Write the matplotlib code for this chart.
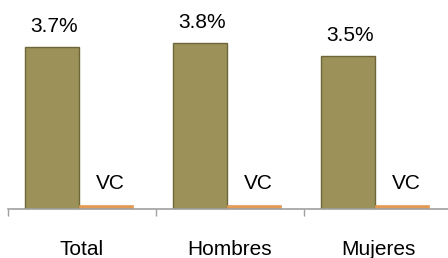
import numpy as np
import matplotlib.pyplot as plt

plt.rcParams['font.family'] = ['Liberation Sans', 'DejaVu Sans']

categorias = ["Total", "Hombres", "Mujeres"]
tasa = [3.7, 3.8, 3.5]
vc = [0.09, 0.09, 0.09]
etiquetas_tasa = ["3.7%", "3.8%", "3.5%"]
etiquetas_vc = ["VC", "VC", "VC"]

fig = plt.figure(figsize=(4.48, 2.58), dpi=100)
ax = fig.add_axes([8 / 448, 49 / 258, 444 / 448, 197 / 258])

x = np.arange(len(categorias))
ancho = 0.365
b1 = ax.bar(x - 0.2, tasa, ancho, color="#9c9158", edgecolor="#6e6638", linewidth=1.0)
b2 = ax.bar(x + 0.165, vc, ancho, color="#e39a55", edgecolor="#e39a55", linewidth=0.5)

for rect, txt in zip(b1, etiquetas_tasa):
    ax.annotate(txt, (rect.get_x() + rect.get_width() / 2, rect.get_height()),
                xytext=(1, 8), textcoords="offset points", ha="center", va="bottom", fontsize=15)
for rect, txt in zip(b2, etiquetas_vc):
    ax.annotate(txt, (rect.get_x() + rect.get_width() / 2, rect.get_height()),
                xytext=(3, 9), textcoords="offset points", ha="center", va="bottom", fontsize=15)

ax.set_xlim(-0.5, 2.5)
ax.set_ylim(0, 4.5)
ax.set_xticks(x)
ax.set_xticklabels(categorias, fontsize=15)
ax.tick_params(axis="x", which="major", length=0, pad=22)
ax.set_xticks(np.arange(-0.5, 3.0, 1.0), minor=True)
ax.tick_params(axis="x", which="minor", length=5, color="#a0a0a0", width=1)
ax.set_yticks([])
for s in ["top", "right", "left"]:
    ax.spines[s].set_visible(False)
ax.spines["bottom"].set_color("#a0a0a0")
ax.spines["bottom"].set_linewidth(1.2)

fig.savefig("out.png", dpi=100)
